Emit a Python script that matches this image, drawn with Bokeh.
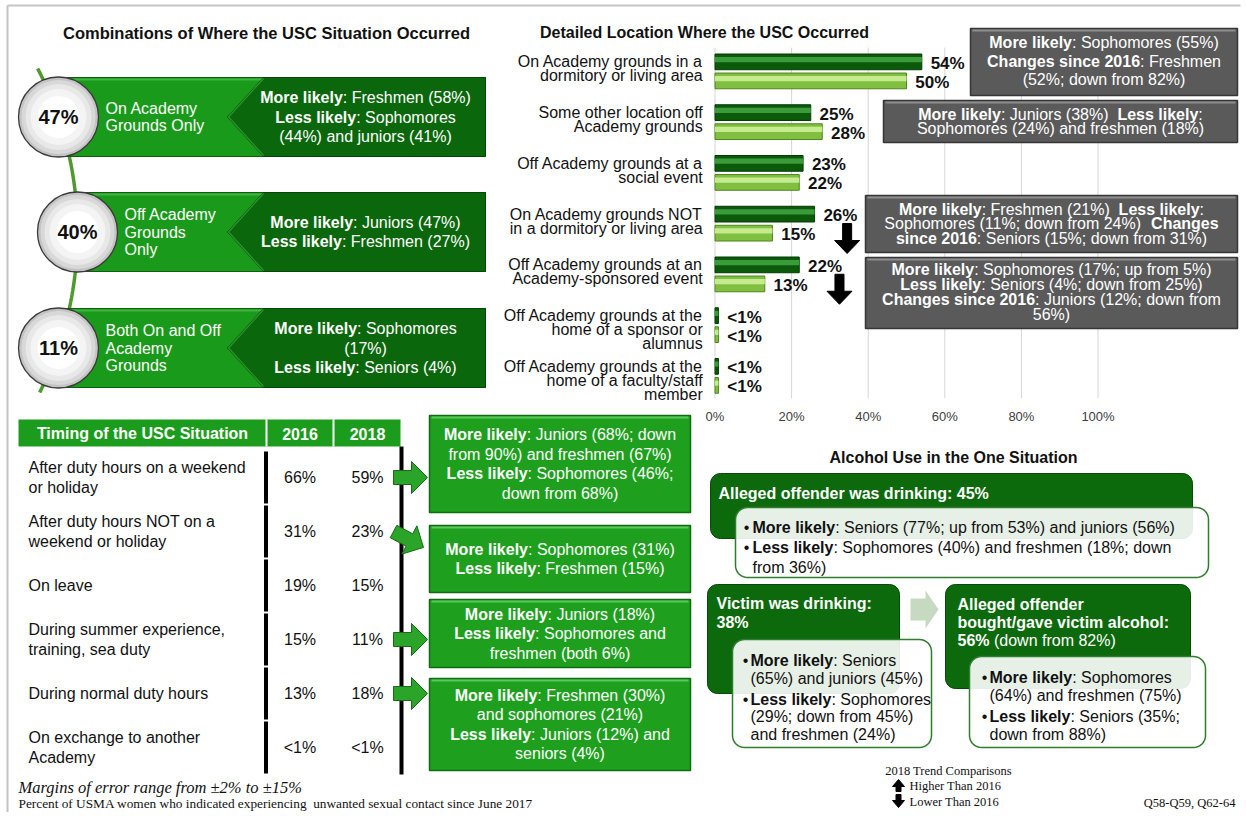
import numpy as np
from bokeh.plotting import figure
from bokeh.models import Range1d
from bokeh.core.properties import value
from bokeh.embed import file_html
from bokeh.resources import INLINE

# ---------------------------------------------------------------- data
combo_pcts = [47, 40, 11]
combo_labels = [["On Academy", "Grounds Only"],
                ["Off Academy", "Grounds", "Only"],
                ["Both On and Off", "Academy", "Grounds"]]
combo_notes = [
    ["**More likely**: Freshmen (58%)", "**Less likely**: Sophomores", "(44%) and juniors (41%)"],
    ["**More likely**: Juniors (47%)", "**Less likely**: Freshmen (27%)"],
    ["**More likely**: Sophomores", "(17%)", "**Less likely**: Seniors (4%)"],
]

location_labels = [
    ["On Academy grounds in a", "dormitory or living area"],
    ["Some other location off", "Academy grounds"],
    ["Off Academy grounds at a", "social event"],
    ["On Academy grounds NOT", "in a dormitory or living area"],
    ["Off Academy grounds at an", "Academy-sponsored event"],
    ["Off Academy grounds at the", "home of a sponsor or", "alumnus"],
    ["Off Academy grounds at the", "home of a faculty/staff", "member"],
]
loc_2016 = [54, 25, 23, 26, 22, 0.9, 0.9]
loc_2018 = [50, 28, 22, 15, 13, 0.9, 0.9]
loc_trend = ["", "", "", "down", "down", "", ""]
pct_ticks = [0, 20, 40, 60, 80, 100]
location_notes = {
    0: ["**More likely**: Sophomores (55%)", "**Changes since 2016**: Freshmen", "(52%; down from 82%)"],
    1: ["**More likely**: Juniors (38%)\u00a0 **Less likely**:", "Sophomores (24%) and freshmen (18%)"],
    3: ["**More likely**: Freshmen (21%)\u00a0 **Less likely**:", "Sophomores (11%; down from 24%)\u00a0 **Changes**",
        "**since 2016**: Seniors (15%; down from 31%)"],
    4: ["**More likely**: Sophomores (17%; up from 5%)", "**Less likely**: Seniors (4%; down from 25%)",
        "**Changes since 2016**: Juniors (12%; down from", "56%)"],
}

timing_labels = [["After duty hours on a weekend", "or holiday"],
                 ["After duty hours NOT on a", "weekend or holiday"],
                 ["On leave"],
                 ["During summer experience,", "training, sea duty"],
                 ["During normal duty hours"],
                 ["On exchange to another", "Academy"]]
timing_2016 = ["66%", "31%", "19%", "15%", "13%", "<1%"]
timing_2018 = ["59%", "23%", "15%", "11%", "18%", "<1%"]
timing_note_rows = [0, 1, 3, 4]
timing_notes = [
    ["**More likely**: Juniors (68%; down", "from 90%) and freshmen (67%)", "**Less likely**: Sophomores (46%;", "down from 68%)"],
    ["**More likely**: Sophomores (31%)", "**Less likely**: Freshmen (15%)"],
    ["**More likely**: Juniors (18%)", "**Less likely**: Sophomores and", "freshmen (both 6%)"],
    ["**More likely**: Freshmen (30%)", "and sophomores (21%)", "**Less likely**: Juniors (12%) and", "seniors (4%)"],
]

alc_offender_title = ["**Alleged offender was drinking: 45%**"]
alc_offender_notes = [["**More likely**: Seniors (77%; up from 53%) and juniors (56%)"],
                      ["**Less likely**: Sophomores (40%) and freshmen (18%; down", "from 36%)"]]
alc_victim_title = ["**Victim was drinking:**", "**38%**"]
alc_victim_notes = [["**More likely**: Seniors", "(65%) and juniors (45%)"],
                    ["**Less likely**: Sophomores", "(29%; down from 45%)", "and freshmen (24%)"]]
alc_gave_title = ["**Alleged offender**", "**bought/gave victim alcohol:**", "**56%** (down from 82%)"]
alc_gave_notes = [["**More likely**: Sophomores", "(64%) and freshmen (75%)"],
                  ["**Less likely**: Seniors (35%;", "down from 88%)"]]

# ---------------------------------------------------------------- text helpers
SANS = "Liberation Sans"
SERIF = "Liberation Serif"
_REG = [278, 278, 355, 556, 556, 889, 667, 191, 333, 333, 389, 584, 278, 333, 278, 278,
        556, 556, 556, 556, 556, 556, 556, 556, 556, 556,
        278, 278, 584, 584, 584, 556, 1015,
        667, 667, 722, 722, 667, 611, 778, 722, 278, 500, 667, 556, 833, 722, 778, 667, 778, 722, 667, 611, 722, 667, 944, 667, 667, 611,
        278, 278, 278, 469, 556, 333,
        556, 556, 500, 556, 556, 278, 556, 556, 222, 222, 500, 222, 833, 556, 556, 556, 556, 333, 500, 278, 556, 500, 722, 500, 500, 500,
        334, 260, 334, 584]
_BOLD = [278, 333, 474, 556, 556, 889, 722, 238, 333, 333, 389, 584, 278, 333, 278, 278,
         556, 556, 556, 556, 556, 556, 556, 556, 556, 556,
         333, 333, 584, 584, 584, 611, 975,
         722, 722, 722, 722, 667, 611, 778, 722, 278, 556, 722, 611, 833, 722, 778, 667, 778, 722, 667, 611, 722, 667, 944, 667, 667, 611,
         333, 278, 333, 584, 556, 333,
         556, 611, 556, 611, 556, 333, 611, 611, 278, 278, 556, 278, 889, 611, 611, 611, 611, 389, 556, 333, 611, 556, 778, 556, 556, 500,
         389, 280, 389, 584]


def char_w(c, bold):
    o = ord(c)
    if 32 <= o <= 126:
        return (_BOLD if bold else _REG)[o - 32]
    return {"\u2022": 350, "\u00b1": 584, "\u00a0": 278}.get(c, 556)


def tw(s, size, bold=False):
    return sum(char_w(c, bold) for c in s) * size / 1000.0


TEXTS = {}


def T(x, y, s, size=16, bold=False, italic=False, color="#111111", align="left",
      font=SANS, xr="default", yr="default"):
    style = ("bold " if bold else "") + ("italic" if italic else "")
    style = style.strip() or "normal"
    key = (font, size, style, color, align, xr, yr)
    d = TEXTS.setdefault(key, {"x": [], "y": [], "text": []})
    d["x"].append(x)
    d["y"].append(y)
    d["text"].append(s)


def parse(markup):
    parts = markup.split("**")
    return [(t, i % 2 == 1) for i, t in enumerate(parts) if t]


def R(x, y, markup, size=16, color="#111111", align="center", font=SANS):
    parts = parse(markup)
    total = sum(tw(t, size, b) for t, b in parts)
    cx = x - total / 2 if align == "center" else (x - total if align == "right" else x)
    for t, b in parts:
        stripped = t.lstrip(" ")
        cx += tw(t[:len(t) - len(stripped)], size, b)
        if stripped:
            T(cx, y, stripped, size, bold=b, color=color, align="left", font=font)
        cx += tw(stripped, size, b)


# ---------------------------------------------------------------- figure
FW, FH = 1242, 812
p = figure(width=FW, height=FH, x_range=Range1d(0, FW), y_range=Range1d(FH, 0),
           output_backend="svg", toolbar_location=None, x_axis_type=None, y_axis_type=None,
           min_border=0, outline_line_color=None, background_fill_color="white")
# bar-chart scales: percent on x, category index on y
PX0, PXS = 714.5, 3.83
CY0, CYS = 70.0, 50.75
p.extra_x_ranges = {"pct": Range1d((0 - PX0) / PXS, (FW - PX0) / PXS)}
p.extra_y_ranges = {"cat": Range1d((FH - CY0) / CYS, (0 - CY0) / CYS)}


def poly(points, **kw):
    p.patch([q[0] for q in points], [q[1] for q in points], **kw)


def rrect(x0, y0, x1, y1, r, n=10):
    pts = []
    for (cx, cy, a0) in [(x1 - r, y0 + r, 270), (x1 - r, y1 - r, 0), (x0 + r, y1 - r, 90), (x0 + r, y0 + r, 180)]:
        for a in np.linspace(a0, a0 + 90, n):
            t = np.radians(a)
            pts.append((cx + r * np.cos(t), cy + r * np.sin(t)))
    return pts


def arrow_pts(x, y, ang, shaft_len=18, head_len=16, shw=7, hhw=16):
    base = [(0, -shw), (shaft_len, -shw), (shaft_len, -hhw), (shaft_len + head_len, 0),
            (shaft_len, hhw), (shaft_len, shw), (0, shw)]
    a = np.radians(ang)
    c, s = np.cos(a), np.sin(a)
    return [(x + px * c - py * s, y + px * s + py * c) for px, py in base]


# page frame lines
p.segment(x0=[7, 7], y0=[5, 5], x1=[7, 1240], y1=[FH, 5], line_color="#c4c4c4", line_width=2)

# ================================================================ section 1
T(266, 32, "Combinations of Where the USC Situation Occurred", 16.5, bold=True, align="center")
acy, arad, acx = 232.0, 357.5, -280.5
ay = np.linspace(68, 392, 90)
p.line(acx + np.sqrt(arad ** 2 - (ay - acy) ** 2), ay, line_color="#4e9a2e", line_width=3.5)

band_tops = [77, 192, 308]
circle_x = [58, 77, 58]
BAND_H = 79
for i, pct in enumerate(combo_pcts):
    top = band_tops[i]
    bot = top + BAND_H
    mid = (top + bot) / 2
    cx = circle_x[i]
    p.quad(left=cx, right=485, top=top, bottom=bot, fill_color="#1a9a1a", line_color="#0e5e0e", line_width=1)
    p.segment(x0=cx, y0=top + 2, x1=262, y1=top + 2, line_color="#3fb43f", line_width=2)
    poly([(263, top), (485, top), (485, bot), (263, bot), (227, mid)],
         fill_color="#0b670b", line_color="#074507", line_width=1)
    p.line([263, 228, 263], [top + 1, mid, bot - 1], line_color="#2f8f2f", line_width=1.5)
    labs = combo_labels[i]
    for k, s in enumerate(labs):
        T(cx + 47, mid + (k - (len(labs) - 1) / 2) * 17.5, s, 16, color="white")
    notes = combo_notes[i]
    for k, s in enumerate(notes):
        R(365, mid + (k - (len(notes) - 1) / 2) * 19.5, s, 16, color="white")
    for r, col in [(40, "#c4c4c4"), (37, "#d8d8d8"), (33, "#e8e8e8"), (28, "#f4f4f4"), (21, "#ffffff")]:
        p.circle(x=[cx], y=[mid], radius=r, fill_color=col,
                 line_color="#3a3a3a" if r == 40 else None, line_width=1.3)
    T(cx, mid, f"{pct}%", 20, bold=True, color="#111111", align="center")

# ================================================================ section 2 (bar chart)
T(704, 32, "Detailed Location Where the USC Occurred", 16, bold=True, align="center")
n_loc = len(location_labels)
p.segment(x0=pct_ticks, y0=[-0.45] * len(pct_ticks), x1=pct_ticks, y1=[n_loc - 0.54] * len(pct_ticks),
          line_color="#d6d6d6", line_width=1, x_range_name="pct", y_range_name="cat")
for t in pct_ticks:
    T(t, n_loc - 0.18, f"{t}%", 13, color="#404040", align="center", xr="pct", yr="cat")

idx = np.arange(n_loc)
y16 = idx - 0.17
y18 = idx + 0.205
BH = 0.31
p.hbar(y=y16, left=0, right=loc_2016, height=BH, fill_color="#0a5a0a", line_color="#053a05",
       line_width=1, x_range_name="pct", y_range_name="cat")
p.hbar(y=y16 - 0.045, left=0, right=loc_2016, height=0.1, fill_color="#3b9b3b", line_color=None,
       x_range_name="pct", y_range_name="cat")
p.hbar(y=y18, left=0, right=loc_2018, height=BH, fill_color="#80bf40", line_color="#4e861f",
       line_width=1, x_range_name="pct", y_range_name="cat")
p.hbar(y=y18 - 0.045, left=0, right=loc_2018, height=0.1, fill_color="#c6ea90", line_color=None,
       x_range_name="pct", y_range_name="cat")


def fmt(v):
    return "<1%" if v < 1 else f"{v:g}%"


for i in range(n_loc):
    T(loc_2016[i] + 2.3, y16[i] + 0.03, fmt(loc_2016[i]), 17, bold=True, align="left", xr="pct", yr="cat")
    T(loc_2018[i] + 2.3, y18[i] + 0.03, fmt(loc_2018[i]), 17, bold=True, align="left", xr="pct", yr="cat")
    for k, s in enumerate(location_labels[i]):
        T(-3.2, y16[i] + k * 0.276, s, 16, align="right", xr="pct", yr="cat")
    if loc_trend[i] == "down":
        ax = loc_2018[i] + 19.5
        t0, hb, tip = i + 0.015, i + 0.35, i + 0.606
        sw, hw = 1.18, 3.26
        p.patch([ax - sw, ax + sw, ax + sw, ax + hw, ax, ax - hw, ax - sw],
                [t0, t0, hb, hb, tip, hb, hb], fill_color="black", line_color="black",
                x_range_name="pct", y_range_name="cat")

gray_geom = {0: (970, 28, 1237, 95, [42, 60.5, 79]),
             1: (883, 100, 1237, 142, [113.5, 127.5]),
             3: (865, 195, 1237, 252, [208.5, 223, 237.5]),
             4: (865, 257, 1237, 328, [269, 284, 299, 314])}
for key, lines in location_notes.items():
    x0, y0, x1, y1, ly = gray_geom[key]
    p.quad(left=x0, right=x1, top=y0, bottom=y1, fill_color="#5a5a5a", line_color="#363636", line_width=1.5)
    p.segment(x0=x0 + 2, y0=y0 + 2, x1=x1 - 2, y1=y0 + 2, line_color="#8e8e8e", line_width=2)
    for s, yy in zip(lines, ly):
        R((x0 + x1) / 2, yy, s, 16, color="white")

# ================================================================ section 3 (timing table)
p.quad(left=18, right=400, top=419, bottom=446, fill_color="#1c9c1c", line_color=None)
p.segment(x0=[266, 333], y0=[419, 419], x1=[266, 333], y1=[446, 446], line_color="white", line_width=2)
T(142, 433, "Timing of the USC Situation", 16, bold=True, color="white", align="center")
T(299.5, 433, "2016", 16, bold=True, color="white", align="center")
T(367, 433, "2018", 16, bold=True, color="white", align="center")
ROW0, ROWH = 477, 54
for i, labs in enumerate(timing_labels):
    y = ROW0 + ROWH * i
    for k, s in enumerate(labs):
        T(28, y + (k - (len(labs) - 1) / 2) * 20, s, 16)
    T(299.5, y, timing_2016[i], 16, align="center")
    T(367, y, timing_2018[i], 16, align="center")
    p.segment(x0=265.5, y0=y - 26, x1=265.5, y1=y + 26, line_color="black", line_width=4)
p.segment(x0=401, y0=446, x1=401, y1=ROW0 + ROWH * (len(timing_labels) - 1) + 27,
          line_color="black", line_width=4)

box_geom = [(415, 512), (525, 592), (599, 667), (678, 770)]
arrow_ang = [0, 28, 0, 0]
for j, row in enumerate(timing_note_rows):
    y = ROW0 + ROWH * row
    poly(arrow_pts(393, y, arrow_ang[j]), fill_color="#2aa52a", line_color="#176b17", line_width=1)
    y0, y1 = box_geom[j]
    p.quad(left=429, right=690, top=y0, bottom=y1, fill_color="#1ea01e", line_color="#116b11", line_width=1.5)
    p.segment(x0=431, y0=y0 + 2, x1=688, y1=y0 + 2, line_color="#5cc85c", line_width=2)
    lines = timing_notes[j]
    cy = (y0 + y1) / 2
    for k, s in enumerate(lines):
        R(559.5, cy + (k - (len(lines) - 1) / 2) * 19.5, s, 16, color="white")

# ================================================================ section 4 (alcohol)
T(953, 457, "Alcohol Use in the One Situation", 16, bold=True, align="center")
DARK = "#0c690c"
poly(rrect(710, 473, 1192, 538, 10), fill_color=DARK, line_color="#074a07", line_width=1)
poly(rrect(707, 584, 899, 693, 10), fill_color=DARK, line_color="#074a07", line_width=1)
poly(rrect(945, 584, 1190, 688, 10), fill_color=DARK, line_color="#074a07", line_width=1)
poly([(910, 598), (925, 598), (925, 590), (938, 609), (925, 628), (925, 620), (910, 620)],
     fill_color="#c6dac1", line_color=None)
for k, s in enumerate(alc_offender_title):
    R(718, 493 + k * 19, s, 16, color="white", align="left")
for k, s in enumerate(alc_victim_title):
    R(716, 603 + k * 19, s, 16, color="white", align="left")
for k, s in enumerate(alc_gave_title):
    R(957, 604 + k * 18, s, 16, color="white", align="left")

WB = dict(fill_color="white", fill_alpha=0.9, line_color="#2f7d2f", line_width=1.5)
poly(rrect(735, 507, 1208, 577, 12), **WB)
poly(rrect(732, 639, 931, 747, 12), **WB)
poly(rrect(969, 656, 1205, 747, 12), **WB)


def bullets(items, bx, tx, y0, step, gap):
    y = y0
    for item in items:
        T(bx, y, "\u2022", 16, align="center")
        for s in item:
            R(tx, y, s, 16, align="left")
            y += step
        y += gap - step


bullets(alc_offender_notes, 746, 752, 527, 19.5, 20)
bullets(alc_victim_notes, 745, 750, 660, 17.5, 21)
bullets(alc_gave_notes, 984, 989, 677, 18, 21)

# legend
T(948, 770, "2018 Trend Comparisons", 12.5, font=SERIF, align="center")
poly([(898, 779), (904, 786), (900.5, 786), (900.5, 791), (895.5, 791), (895.5, 786), (892, 786)],
     fill_color="black", line_color="black")
poly([(895.5, 794), (900.5, 794), (900.5, 800), (904, 800), (898, 807), (892, 800), (895.5, 800)],
     fill_color="black", line_color="black")
T(909, 785, "Higher Than 2016", 12.5, font=SERIF)
T(909, 801, "Lower Than 2016", 12.5, font=SERIF)
T(1235, 802, "Q58-Q59, Q62-64", 12.5, font=SERIF, align="right")

# footnotes
T(18, 787, "Margins of error range from \u00b12% to \u00b115%", 16.5, italic=True, font=SERIF)
T(18, 803, "Percent of USMA women who indicated experiencing\u00a0 unwanted sexual contact since June 2017",
  13.3, font=SERIF)

# ---------------------------------------------------------------- flush texts
for (font, size, style, color, align, xr, yr), d in TEXTS.items():
    p.text(x=d["x"], y=d["y"], text=d["text"], text_font=value(font), text_font_size=f"{size}px",
           text_font_style=style, text_color=color, text_align=align, text_baseline="middle",
           x_range_name=xr, y_range_name=yr)

open("out.html", "w").write(file_html(p, INLINE))
